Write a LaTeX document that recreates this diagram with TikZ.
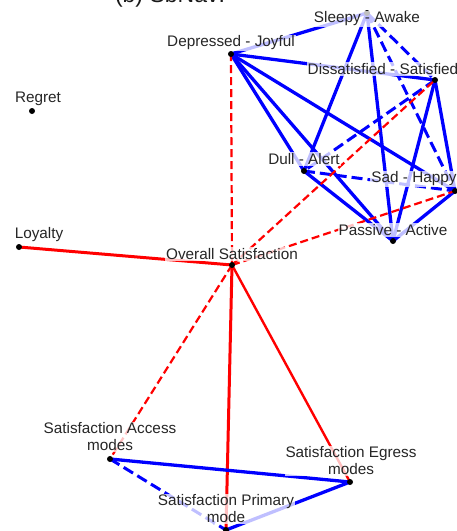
\documentclass[tikz,border=0pt]{standalone}
\usepackage{fontspec}
\setmainfont{Liberation Sans}
\begin{document}
\begin{tikzpicture}[x=1pt,y=-1pt,
  bl/.style={blue, line width=3.3pt},
  bld/.style={blue, line width=3pt, dash pattern=on 11pt off 5pt},
  rs/.style={red, line width=3pt},
  rd/.style={red, line width=2.2pt, dash pattern=on 8pt off 4pt},
  dot/.style={circle, fill=black, inner sep=0pt, minimum size=6pt},
  lab/.style={font=\fontsize{15.3}{17}\selectfont, fill=white, fill opacity=0.75, text opacity=1, text=black!85, inner sep=1pt, align=center}]
\useasboundingbox (0,0) rectangle (457,531);
\clip (0,0) rectangle (457,531);
\fill[white] (0,0) rectangle (457,531);
% title (mostly cut off)
\node[font=\fontsize{23}{25}\selectfont, anchor=base, text=black!90] (title) at (170,2) {(b) SbNav:};
% node positions
\coordinate (sl) at (367,13);
\coordinate (dj) at (231,54);
\coordinate (ds) at (435,80);
\coordinate (da) at (304,171);
\coordinate (sh) at (455,191);
\coordinate (pa) at (393,241);
\coordinate (os) at (232,265);
\coordinate (lo) at (19,247);
\coordinate (re) at (32,111);
\coordinate (ac) at (110,459);
\coordinate (eg) at (350,482);
\coordinate (pr) at (226,530);
% blue edges
\draw[bl] (dj) -- (sl);
\draw[bl] (dj) -- (ds);
\draw[bl] (dj) -- (da);
\draw[bl] (dj) -- (pa);
\draw[bl] (dj) -- (sh);
\draw[bl] (sl) -- (da);
\draw[bl] (sl) -- (pa);
\draw[bld] (sl) -- (sh);
\draw[bld] (sl) -- (ds);
\draw[bld] (ds) -- (da);
\draw[bl] (ds) -- (pa);
\draw[bl] (ds) -- (sh);
\draw[bld] (da) -- (sh);
\draw[bl] (da) -- (pa);
\draw[bl] (sh) -- (pa);
% red edges
\draw[rs] (os) -- (lo);
\draw[rd] (os) -- (dj);
\draw[rd] (os) -- (ds);
\draw[rd] (os) -- (sh);
\draw[rd] (os) -- (ac);
\draw[rs] (os) -- (pr);
\draw[red, line width=2.4pt] (os) -- (eg);
% bottom blue edges
\draw[bl] (ac) -- (eg);
\draw[bld] (ac) -- (pr);
\draw[bl] (eg) -- (pr);
% dots
\foreach \p in {sl,dj,ds,da,sh,pa,os,lo,re,ac,eg,pr} \node[dot] at (\p) {};
% labels
\node[lab] (lsl) at (367,19) {Sleepy - Awake};
\node[lab] (ldj) at (231,43) {Depressed - Joyful};
\node[lab] (lds) at (383,69) {Dissatisfied - Satisfied};
\node[lab] (lda) at (304,159) {Dull - Alert};
\node[lab] (lsh) at (414,179) {Sad - Happy};
\node[lab] (lpa) at (393,230) {Passive - Active};
\node[lab] (los) at (232,254) {Overall Satisfaction};
\node[lab] (llo) at (39,235) {Loyalty};
\node[lab] (lre) at (38,99) {Regret};
\node[lab] (lac) at (110,437) {Satisfaction Access\\modes};
\node[lab] (leg) at (351,461) {Satisfaction Egress\\modes};
\node[lab] (lpr) at (226,509) {Satisfaction Primary\\mode};
\end{tikzpicture}
\end{document}
